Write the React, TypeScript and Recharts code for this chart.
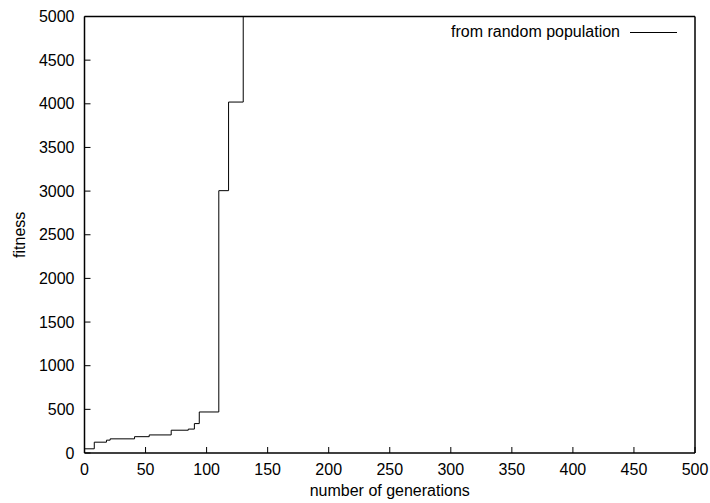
import { LineChart, Line, XAxis, YAxis, Legend, Label } from "recharts";

// generation at which best fitness changed, and the new best fitness
const generations = [0, 8, 18, 21, 41, 53, 71, 85, 90, 94, 110, 118, 130];
const fitness = [48, 124, 147, 162, 187, 207, 261, 274, 337, 470, 3005, 4020, 6000];

const xTicks = [0, 50, 100, 150, 200, 250, 300, 350, 400, 450, 500];
const yTicks = [0, 500, 1000, 1500, 2000, 2500, 3000, 3500, 4000, 4500, 5000];

const SERIES = "from random population";
const FONT = "'Liberation Sans', Arial, Helvetica, sans-serif";
const FS = 16;

const data = generations.map((g, i) => ({ gen: g, [SERIES]: fitness[i] }));

function LegendBox() {
  return (
    <div style={{ display: "flex", alignItems: "center", fontFamily: FONT, fontSize: FS, color: "#000" }}>
      <span>{SERIES}</span>
      <span style={{ display: "inline-block", width: 47, borderTop: "1px solid #000", marginLeft: 10 }} />
    </div>
  );
}

export default function App() {
  const tickStyle = { fontSize: FS, fill: "#000", fontFamily: FONT };
  const axisLine = { stroke: "#000", strokeWidth: 1.5 };
  return (
    <div style={{ position: "absolute", left: 0, top: 0, background: "#fff" }}>
      <LineChart
        width={710}
        height={503}
        data={data}
        margin={{ top: 15.5, right: 14, bottom: 0, left: 0.5 }}
      >
        <XAxis
          xAxisId="bottom"
          dataKey="gen"
          type="number"
          domain={[0, 500]}
          ticks={xTicks}
          interval={0}
          height={50}
          tickSize={-6}
          tickMargin={17}
          tick={tickStyle}
          axisLine={axisLine}
          tickLine={{ stroke: "#000" }}
        >
          <Label
            value="number of generations"
            position="insideTop"
            offset={32}
            style={{ fontSize: FS, fill: "#000", fontFamily: FONT }}
          />
        </XAxis>
        <XAxis
          xAxisId="top"
          orientation="top"
          dataKey="gen"
          type="number"
          domain={[0, 500]}
          ticks={xTicks}
          interval={0}
          height={1}
          tickSize={-6}
          tick={false}
          axisLine={axisLine}
          tickLine={{ stroke: "#000" }}
        />
        <YAxis
          yAxisId="left"
          type="number"
          domain={[0, 5000]}
          allowDataOverflow
          ticks={yTicks}
          interval={0}
          width={84}
          tickSize={-6}
          tickMargin={16}
          tick={tickStyle}
          axisLine={axisLine}
          tickLine={{ stroke: "#000" }}
        >
          <Label
            value="fitness"
            angle={-90}
            position="insideLeft"
            offset={19}
            style={{ fontSize: FS, fill: "#000", fontFamily: FONT, textAnchor: "middle" }}
          />
        </YAxis>
        <YAxis
          yAxisId="right"
          orientation="right"
          type="number"
          domain={[0, 5000]}
          ticks={yTicks}
          interval={0}
          width={1}
          tickSize={-6}
          tick={false}
          axisLine={axisLine}
          tickLine={{ stroke: "#000" }}
        />
        <Legend
          layout="horizontal"
          verticalAlign="middle"
          content={() => <LegendBox />}
          wrapperStyle={{ top: 23, right: 33, left: "auto", width: "auto" }}
        />
        <Line
          xAxisId="bottom"
          yAxisId="left"
          type="stepAfter"
          dataKey={SERIES}
          stroke="#000"
          strokeWidth={1}
          dot={false}
          activeDot={false}
          isAnimationActive={false}
        />
      </LineChart>
    </div>
  );
}
